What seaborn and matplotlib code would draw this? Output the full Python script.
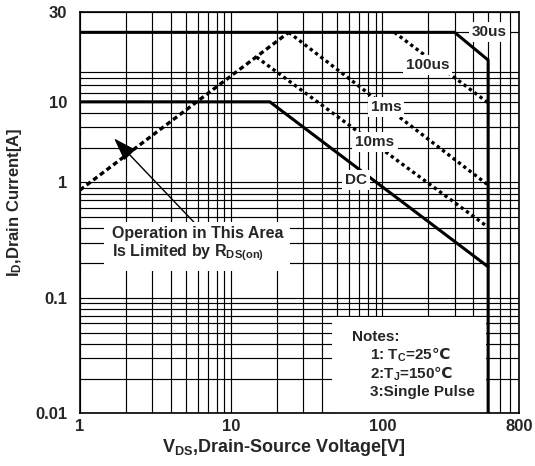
import numpy as np
import pandas as pd
import matplotlib
matplotlib.use("Agg")
import matplotlib.pyplot as plt
import matplotlib.patches as patches
from matplotlib.ticker import LogLocator, NullFormatter
import seaborn as sns

# Safe operating area curves (V, A in plot units)
limit_v = [1, 300, 500, 500]          # 30us + breakdown limit
limit_i = [20, 20, 11.5, 0.01]
rds_v = [1, 24]                       # RDS(on) limit
rds_i = [0.86, 20]
us100_v = [120, 500]
us100_i = [20, 4.9]
ms1_v = [24, 500]
ms1_i = [20, 0.95]
ms10_v = [14.7, 500]
ms10_i = [12.2, 0.41]
dc_v = [1, 18, 500]
dc_i = [5, 5, 0.186]

x_ticks = [1, 10, 100, 800]
x_labels = ["1", "10", "100", "800"]
y_ticks = [0.01, 0.1, 1, 5, 30]
y_labels = ["0.01", "0.1", "1", "10", "30"]

# curve labels: (text, V, A)
curve_labels = [("30us", 510, 20), ("100us", 199, 10.4), ("1ms", 105.6, 4.5),
                ("10ms", 89.3, 2.24), ("DC", 66.9, 1.05)]
notes = ["Notes:", r"1: $\mathbf{T_C}$=25$\mathsf{℃}$",
         r"2:$\mathbf{T_J}$=150$\mathsf{℃}$", "3:Single Pulse"]

sns.set_style("white")
plt.rcParams["font.family"] = ["Liberation Sans", "DejaVu Sans"]
plt.rcParams["font.weight"] = "bold"
plt.rcParams["mathtext.fontset"] = "custom"
plt.rcParams["mathtext.rm"] = "Liberation Sans:bold"
plt.rcParams["mathtext.it"] = "Liberation Sans:bold"
plt.rcParams["mathtext.bf"] = "Liberation Sans:bold"
plt.rcParams["mathtext.sf"] = "DejaVu Sans:bold"

fig, ax = plt.subplots(figsize=(5.35, 4.66), dpi=100)
fig.subplots_adjust(left=0.1495, right=0.9701, bottom=0.1131, top=0.9742)

dotted = (0, (1, 1))
series = [
    (limit_v, limit_i, "-", 2.2),
    (rds_v, rds_i, (0, (1.5, 1)), 2.4),
    (us100_v, us100_i, dotted, 2.4),
    (ms1_v, ms1_i, dotted, 2.4),
    (ms10_v, ms10_i, dotted, 2.4),
    (dc_v, dc_i, "-", 2.2),
]
for v, i, ls, lw in series:
    sns.lineplot(x=v, y=i, ax=ax, color="black", linewidth=lw, linestyle=ls,
                 sort=False, estimator=None)

ax.set_xscale("log")
ax.set_yscale("log")
ax.set_xlim(1, 800)
ax.set_ylim(0.01, 30)

ax.set_xticks(x_ticks)
ax.set_xticklabels(x_labels)
ax.xaxis.set_minor_locator(LogLocator(base=10, subs=np.arange(2, 10), numticks=30))
ax.xaxis.set_minor_formatter(NullFormatter())
ax.set_yticks(y_ticks)
ax.set_yticklabels(y_labels)
ax.yaxis.set_minor_locator(LogLocator(base=10, subs=np.arange(2, 10), numticks=30))
ax.yaxis.set_minor_formatter(NullFormatter())

ax.set_axisbelow(True)
ax.grid(True, which="both", color="black", linewidth=0.85)
ax.tick_params(which="both", length=0, labelsize=12)
ax.tick_params(axis="x", pad=4)
ax.tick_params(axis="y", pad=9)
for s in ax.spines.values():
    s.set_color("black")
    s.set_linewidth(1.2)

ax.set_xlabel(r"$\mathbf{V_{DS}}$,Drain-Source Voltage[V]", fontsize=13, fontweight="bold")
ax.set_ylabel(r"$\mathbf{I_D}$,Drain Current[A]", fontsize=12, fontweight="bold")
ax.xaxis.set_label_coords(0.464, -0.06)
ax.yaxis.set_label_coords(-0.128, 0.527)

for txt, v, i in curve_labels:
    ax.text(v, i, txt, ha="center", va="center", fontsize=11, fontweight="bold",
            bbox=dict(boxstyle="square,pad=0.2", fc="white", ec="none"), zorder=5)

ax.text(1.62, 0.29, "Operation in This Area\nIs Limited by " + r"$\mathbf{R_{DS(on)}}$",
        ha="left", va="center", fontsize=11.5, fontweight="bold", linespacing=1.15,
        bbox=dict(boxstyle="square,pad=0.45", fc="white", ec="none"), zorder=5)
ax.annotate("", xy=(1.68, 2.41), xytext=(5.91, 0.428),
            arrowprops=dict(arrowstyle="-|>,head_length=0.9,head_width=0.3",
                            color="black", lw=1, mutation_scale=16,
                            shrinkA=0, shrinkB=0), zorder=4)

ax.add_patch(patches.Rectangle((0.574, 0), 0.351, 0.24, transform=ax.transAxes,
                               fc="white", ec="none", zorder=2.2))
note_x = [0.6196, 0.6606, 0.6606, 0.6606]
note_y = [0.190, 0.146, 0.099, 0.052]
for txt, nx, ny in zip(notes, note_x, note_y):
    ax.text(nx, ny, txt, transform=ax.transAxes, ha="left", va="center",
            fontsize=11, fontweight="bold", zorder=5)

fig.savefig("out.png", dpi=100)
